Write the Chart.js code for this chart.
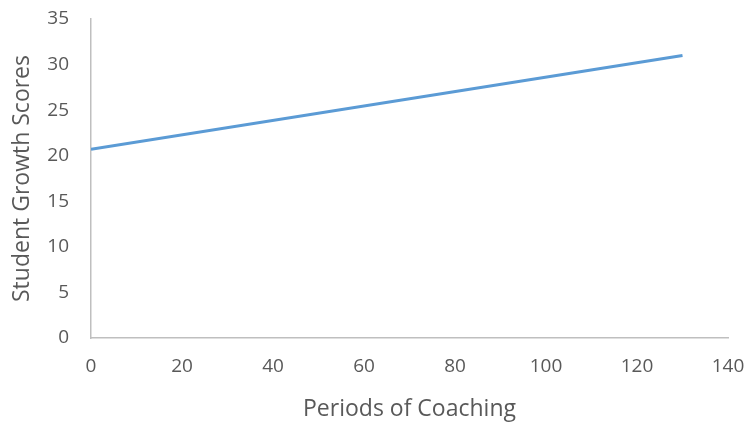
<!doctype html>
<html>
<head>
  <meta charset="utf-8" />
  <title>Student Growth vs Coaching</title>
  <style>
    html, body { margin: 0; padding: 0; background: #fff; }
    .wrap { width: 747px; height: 423px; }
    canvas { display: block; }
  </style>
</head>
<body>
  <div class="wrap"><canvas id="chart" width="747" height="423"></canvas></div>

  <script src="https://cdn.jsdelivr.net/npm/chart.js@4.4.1/dist/chart.umd.min.js"></script>
  <script>
    // trend line endpoints
    const periods = [0, 130];
    const growthScores = [20.7, 31];
    const xTicks = [0, 20, 40, 60, 80, 100, 120, 140];
    const yTicks = [0, 5, 10, 15, 20, 25, 30, 35];

    const textColor = '#595959';
    const axisColor = '#bfbfbf';
    const tickFont = { family: 'Open Sans', size: 19 };
    const titleFont = { family: 'Open Sans', size: 23 };

    const points = periods.map((x, i) => ({ x, y: growthScores[i] }));

    new Chart(document.getElementById('chart').getContext('2d'), {
      type: 'scatter',
      data: {
        datasets: [{
          data: points,
          showLine: true,
          borderColor: '#5b9bd5',
          borderWidth: 3,
          pointRadius: 0,
          fill: false
        }]
      },
      options: {
        responsive: false,
        animation: false,
        layout: { padding: { left: 0, right: 19, top: 19, bottom: 0 } },
        plugins: { legend: { display: false }, tooltip: { enabled: false } },
        scales: {
          x: {
            type: 'linear',
            min: xTicks[0],
            max: xTicks[xTicks.length - 1],
            afterBuildTicks: (axis) => { axis.ticks = xTicks.map(v => ({ value: v })); },
            afterFit: (axis) => {
              axis.height = 85;
              axis.paddingLeft = 0;
              axis.paddingRight = 0;
            },
            grid: { display: false, drawTicks: false },
            border: { display: true, color: axisColor, width: 1.5 },
            ticks: { color: textColor, font: tickFont, padding: 17, maxRotation: 0 },
            title: { display: true, text: 'Periods of Coaching', color: textColor, font: titleFont, padding: { top: 0, bottom: 0 } }
          },
          y: {
            min: yTicks[0],
            max: yTicks[yTicks.length - 1],
            afterBuildTicks: (axis) => { axis.ticks = yTicks.map(v => ({ value: v })); },
            afterFit: (axis) => {
              axis.width = 91;
              axis.paddingTop = 0;
              axis.paddingBottom = 0;
            },
            grid: { display: false, drawTicks: false },
            border: { display: true, color: axisColor, width: 1.5 },
            ticks: { color: textColor, font: tickFont, padding: 22 },
            title: { display: true, text: 'Student Growth Scores', color: textColor, font: titleFont, padding: { top: 9, bottom: 0 } }
          }
        }
      }
    });
  </script>
</body>
</html>
